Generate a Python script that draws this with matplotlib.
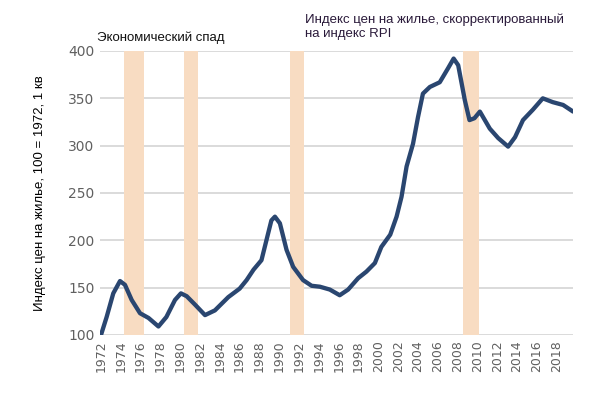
import numpy as np
import matplotlib.pyplot as plt

plt.rcParams['font.family'] = ['Liberation Sans', 'DejaVu Sans']

# Индекс цен на жилье (реальный), 100 = 1972 1 кв
years = [1972.0, 1972.57, 1973.24, 1973.92, 1974.42, 1975.1, 1975.94, 1976.8,
         1977.8, 1978.6, 1979.47, 1980.07, 1980.65, 1981.5, 1982.5, 1983.5,
         1984.85, 1986.0, 1986.7, 1987.4, 1988.2, 1988.7, 1989.2, 1989.56,
         1990.06, 1990.73, 1991.4, 1992.4, 1993.26, 1994.1, 1995.1, 1996.1,
         1996.95, 1997.96, 1998.8, 1999.65, 2000.3, 2001.2, 2001.84, 2002.34,
         2002.85, 2003.5, 2004.0, 2004.5, 2005.2, 2006.2, 2007.05, 2007.6,
         2008.06, 2008.73, 2009.2, 2009.7, 2010.25, 2011.25, 2012.1, 2013.1,
         2013.8, 2014.6, 2015.6, 2016.6, 2017.6, 2018.65, 2019.66]
index = [100, 119, 144, 157, 153, 137, 123, 118,
         109, 119, 137, 144, 141, 132, 121, 126,
         140, 149, 158, 169, 179, 200, 221, 225,
         218, 190, 172, 158, 152, 151, 148, 142,
         148, 160, 167, 176, 193, 206, 225, 246,
         278, 302, 330, 355, 362, 367, 382, 392,
         385, 348, 327, 329, 336, 318, 308, 299,
         309, 327, 338, 350, 346, 343, 336]

# периоды экономического спада
recessions = [(1974.3, 1976.3), (1980.4, 1981.8), (1991.1, 1992.5), (2008.5, 2010.2)]

line_col = '#2a4670'
band_col = '#f8dcc2'
tick_col = '#606060'

fig = plt.figure(figsize=(5.92, 3.94), dpi=100)
ax = fig.add_axes([100/592, 1 - 335/394, 473/592, 284/394])

for a, b in recessions:
    ax.axvspan(a, b, color=band_col, lw=0, zorder=1)

for v in range(100, 401, 50):
    ax.axhline(v, color='#d4d4d4', lw=1.2, zorder=0)

ax.plot(years, index, color=line_col, lw=3.1, solid_capstyle='round',
        solid_joinstyle='round', zorder=3)

ax.set_xlim(1971.9, 2019.65)
ax.set_ylim(100, 400)
ax.set_yticks(range(100, 401, 50))
ax.set_xticks(range(1972, 2019, 2))
ax.set_xticklabels([str(y) for y in range(1972, 2019, 2)], rotation=90,
                   fontsize=9, color=tick_col, family='DejaVu Sans')
ax.set_yticklabels([str(v) for v in range(100, 401, 50)],
                   fontsize=10, color=tick_col, family='DejaVu Sans')
ax.tick_params(length=0, pad=4)
for s in ax.spines.values():
    s.set_visible(False)

ax.set_ylabel('Индекс цен на жилье, 100 = 1972, 1 кв', fontsize=9.5, labelpad=16)

fig.text(97/592, 1 - 38/394, 'Экономический спад', fontsize=9.5, va='center',
         color='#111111')
fig.text(305/592, 1 - 27/394, 'Индекс цен на жилье, скорректированный\nна индекс RPI',
         fontsize=9.5, va='center', color='#2a1a3a', linespacing=1.2)

fig.savefig('out.png', dpi=100)
